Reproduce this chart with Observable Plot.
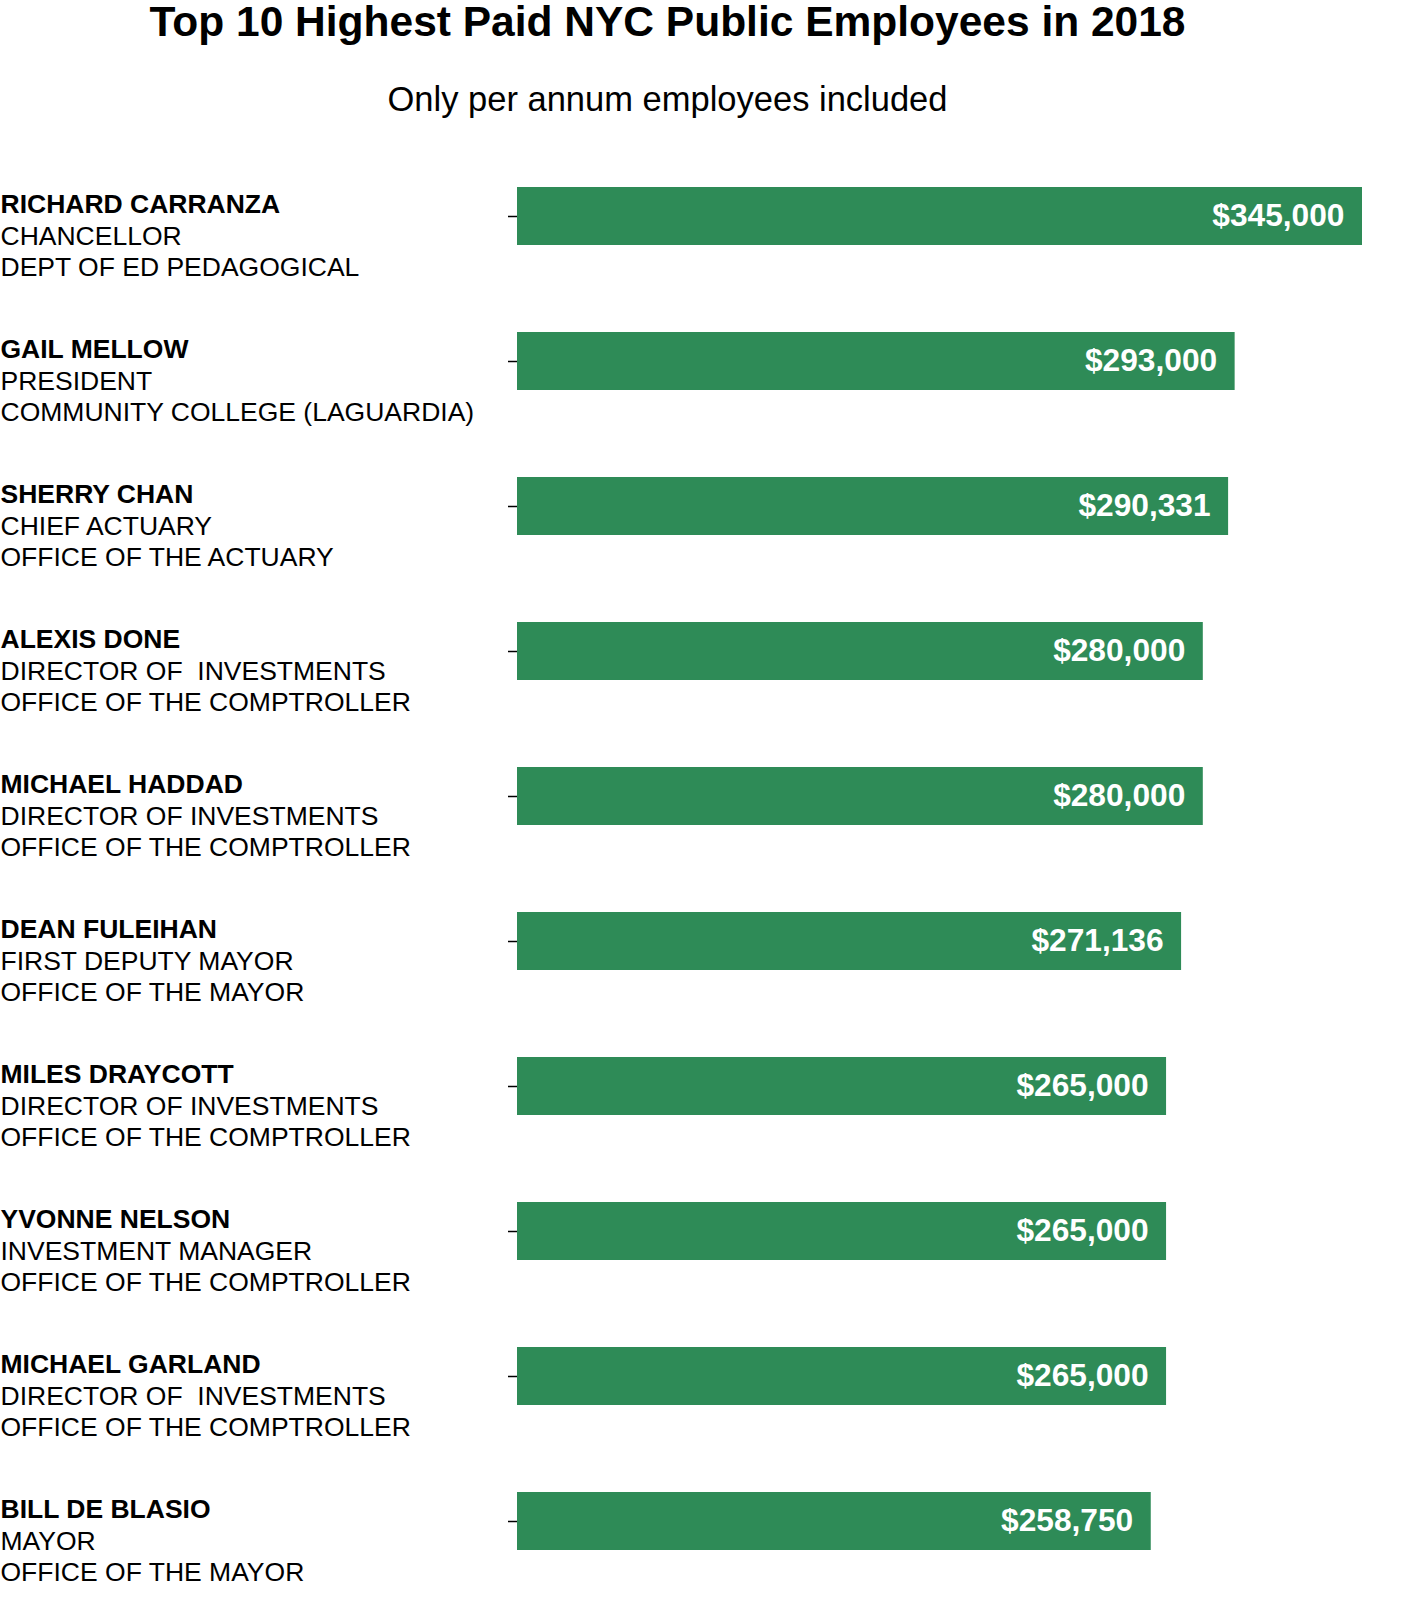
<!DOCTYPE html>
<html>
<head>
<meta charset="utf-8">
<script src="https://cdn.jsdelivr.net/npm/d3@7"></script>
<script src="https://cdn.jsdelivr.net/npm/@observablehq/plot@0.6"></script>
<style>
  html, body { margin: 0; padding: 0; background: #fff; }
  body { width: 1405px; font-family: "Liberation Sans", Arial, Helvetica, sans-serif; }
  #header { position: relative; height: 130px; width: 1405px; }
  #title { position: absolute; left: 0; top: 0; width: 1335px; text-align: center;
           font-size: 42.5px; line-height: 44px; font-weight: bold; color: #000; }
  #subtitle { position: absolute; left: 0; top: 79px; width: 1335px; text-align: center;
              font-size: 34.5px; line-height: 40px; color: #000; }
  #chart svg text { white-space: pre; }
</style>
</head>
<body>
<div id="header">
  <div id="title"></div>
  <div id="subtitle"></div>
</div>
<div id="chart"></div>
<script>
const titleText = "Top 10 Highest Paid NYC Public Employees in 2018";
const subtitleText = "Only per annum employees included";

const names = [
  "RICHARD CARRANZA", "GAIL MELLOW", "SHERRY CHAN", "ALEXIS DONE", "MICHAEL HADDAD",
  "DEAN FULEIHAN", "MILES DRAYCOTT", "YVONNE NELSON", "MICHAEL GARLAND", "BILL DE BLASIO"
];
const roles = [
  "CHANCELLOR", "PRESIDENT", "CHIEF ACTUARY", "DIRECTOR OF  INVESTMENTS", "DIRECTOR OF INVESTMENTS",
  "FIRST DEPUTY MAYOR", "DIRECTOR OF INVESTMENTS", "INVESTMENT MANAGER", "DIRECTOR OF  INVESTMENTS", "MAYOR"
];
const departments = [
  "DEPT OF ED PEDAGOGICAL", "COMMUNITY COLLEGE (LAGUARDIA)", "OFFICE OF THE ACTUARY",
  "OFFICE OF THE COMPTROLLER", "OFFICE OF THE COMPTROLLER", "OFFICE OF THE MAYOR",
  "OFFICE OF THE COMPTROLLER", "OFFICE OF THE COMPTROLLER", "OFFICE OF THE COMPTROLLER", "OFFICE OF THE MAYOR"
];
const salaries = [345000, 293000, 290331, 280000, 280000, 271136, 265000, 265000, 265000, 258750];

document.getElementById("title").textContent = titleText;
document.getElementById("subtitle").textContent = subtitleText;

const data = names.map((n, i) => ({name: n, role: roles[i], dept: departments[i], salary: salaries[i]}));
const fmt = d3.format(",");
const FONT = "Liberation Sans, Arial, Helvetica, sans-serif";
const marginLeft = 517;

const chart = Plot.plot({
  width: 1405,
  height: 1470,
  marginLeft: marginLeft,
  marginRight: 43,
  marginTop: 23.8,
  marginBottom: 16.4,
  style: {fontFamily: FONT, background: "#fff", color: "#000"},
  x: {axis: null, domain: [0, 345000]},
  y: {domain: names, paddingInner: 0.6, paddingOuter: 0.2, align: 0.5, axis: null},
  marks: [
    Plot.barX(data, {x: "salary", y: "name", fill: "#2E8B57"}),
    Plot.axisY({tickSize: 9, tickFormat: () => "", label: null, stroke: "#000", strokeWidth: 1.5}),
    Plot.text(data, {y: "name", text: "name", frameAnchor: "left", dx: -marginLeft, dy: -12,
      textAnchor: "start", fontWeight: "bold", fontSize: 26.5, fill: "#000"}),
    Plot.text(data, {y: "name", text: "role", frameAnchor: "left", dx: -marginLeft, dy: 19.6,
      textAnchor: "start", fontSize: 26.5, fill: "#000"}),
    Plot.text(data, {y: "name", text: "dept", frameAnchor: "left", dx: -marginLeft, dy: 51.2,
      textAnchor: "start", fontSize: 26.5, fill: "#000"}),
    Plot.text(data, {x: "salary", y: "name", text: d => "$" + fmt(d.salary), dx: -18, dy: -1,
      textAnchor: "end", fontWeight: "bold", fontSize: 31.7, fill: "#fff"})
  ]
});
document.getElementById("chart").appendChild(chart);
</script>
</body>
</html>
